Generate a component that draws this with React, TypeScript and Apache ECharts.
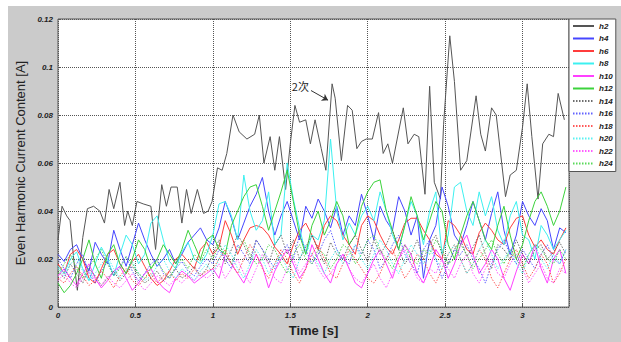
import React, { useEffect, useRef } from "react";
import * as echarts from "echarts";

// ---- Data ----
const h2Time = [0, 0.026, 0.056, 0.078, 0.103, 0.125, 0.16, 0.19, 0.23, 0.27, 0.30, 0.33, 0.36, 0.40, 0.43, 0.45, 0.48, 0.51, 0.55, 0.60, 0.63, 0.67, 0.70, 0.73, 0.77, 0.80, 0.83, 0.86, 0.90, 0.94, 0.97, 0.995, 1.03, 1.06, 1.09, 1.13, 1.17, 1.22, 1.27, 1.30, 1.33, 1.37, 1.40, 1.43, 1.47, 1.50, 1.53, 1.56, 1.60, 1.63, 1.66, 1.70, 1.73, 1.77, 1.79, 1.83, 1.87, 1.90, 1.93, 1.96, 1.99, 2.03, 2.07, 2.10, 2.13, 2.16, 2.23, 2.26, 2.30, 2.33, 2.37, 2.40, 2.43, 2.47, 2.49, 2.53, 2.56, 2.60, 2.64, 2.70, 2.73, 2.76, 2.80, 2.83, 2.89, 2.92, 2.96, 3.00, 3.03, 3.06, 3.10, 3.13, 3.17, 3.20, 3.23, 3.27];
const h2Values = [0.028, 0.042, 0.038, 0.036, 0.019, 0.007, 0.029, 0.041, 0.042, 0.040, 0.035, 0.049, 0.041, 0.052, 0.034, 0.040, 0.034, 0.044, 0.043, 0.042, 0.024, 0.051, 0.042, 0.050, 0.050, 0.035, 0.049, 0.039, 0.049, 0.039, 0.040, 0.044, 0.058, 0.057, 0.064, 0.080, 0.073, 0.070, 0.072, 0.080, 0.060, 0.071, 0.057, 0.071, 0.049, 0.068, 0.084, 0.077, 0.078, 0.068, 0.078, 0.066, 0.057, 0.093, 0.087, 0.061, 0.084, 0.082, 0.066, 0.069, 0.070, 0.070, 0.081, 0.064, 0.068, 0.060, 0.083, 0.068, 0.072, 0.071, 0.047, 0.092, 0.052, 0.045, 0.076, 0.113, 0.094, 0.057, 0.061, 0.088, 0.072, 0.065, 0.083, 0.080, 0.046, 0.055, 0.057, 0.075, 0.093, 0.071, 0.045, 0.068, 0.072, 0.071, 0.089, 0.078];

// shared sample times (s) for h4..h24
const sampleTime = [0, 0.04, 0.08, 0.12, 0.16, 0.2, 0.24, 0.28, 0.32, 0.36, 0.4, 0.44, 0.48, 0.52, 0.56, 0.6, 0.64, 0.68, 0.72, 0.76, 0.8, 0.84, 0.88, 0.92, 0.96, 1.0, 1.04, 1.08, 1.12, 1.16, 1.2, 1.24, 1.28, 1.32, 1.36, 1.4, 1.44, 1.48, 1.52, 1.56, 1.6, 1.64, 1.68, 1.72, 1.76, 1.8, 1.84, 1.88, 1.92, 1.96, 2.0, 2.04, 2.08, 2.12, 2.16, 2.2, 2.24, 2.28, 2.32, 2.36, 2.4, 2.44, 2.48, 2.52, 2.56, 2.6, 2.64, 2.68, 2.72, 2.76, 2.8, 2.84, 2.88, 2.92, 2.96, 3.0, 3.04, 3.08, 3.12, 3.16, 3.2, 3.24, 3.28];

// values in mA
const h4mA = [22, 19, 24, 26, 20, 15, 27, 22, 18, 32, 24, 17, 26, 35, 28, 22, 17, 20, 24, 18, 22, 27, 30, 33, 28, 26, 33, 44, 37, 28, 35, 42, 47, 54, 40, 30, 38, 44, 36, 28, 42, 37, 45, 40, 33, 42, 30, 38, 34, 47, 38, 28, 42, 36, 32, 46, 40, 30, 38, 12, 28, 34, 50, 42, 30, 26, 34, 44, 36, 28, 39, 48, 32, 22, 30, 44, 38, 34, 41, 36, 24, 33, 31];
const h6mA = [18, 14, 22, 24, 20, 12, 10, 16, 22, 24, 18, 14, 19, 22, 17, 12, 9, 11, 15, 20, 22, 19, 16, 24, 27, 22, 25, 36, 30, 22, 28, 33, 34, 33, 30, 25, 22, 18, 26, 32, 35, 30, 24, 34, 38, 36, 30, 26, 22, 34, 38, 36, 30, 25, 22, 28, 35, 37, 37, 32, 28, 22, 20, 36, 34, 30, 24, 22, 31, 35, 32, 28, 26, 33, 37, 38, 30, 25, 28, 24, 22, 28, 33];
const h8mA = [17, 14, 20, 23, 16, 11, 18, 25, 20, 13, 22, 30, 26, 18, 22, 35, 38, 28, 19, 16, 23, 27, 20, 18, 22, 30, 43, 44, 38, 28, 55, 40, 32, 36, 48, 26, 30, 60, 45, 33, 22, 30, 28, 36, 70, 40, 28, 35, 30, 38, 42, 36, 48, 40, 30, 24, 34, 44, 38, 26, 40, 48, 22, 30, 50, 52, 40, 34, 48, 38, 46, 32, 26, 38, 44, 30, 28, 20, 34, 30, 24, 28, 32];
const h10mA = [13, 16, 12, 9, 14, 18, 12, 8, 11, 15, 17, 12, 7, 10, 14, 16, 11, 8, 6, 12, 15, 13, 10, 12, 14, 16, 12, 22, 18, 14, 10, 16, 22, 17, 8, 15, 20, 24, 18, 12, 16, 26, 20, 14, 10, 18, 22, 16, 10, 8, 14, 20, 24, 18, 12, 20, 26, 22, 14, 10, 16, 24, 20, 12, 18, 26, 30, 22, 14, 18, 24, 20, 12, 7, 15, 22, 18, 26, 16, 10, 20, 24, 14];
const h12mA = [10, 6, 9, 14, 20, 28, 18, 12, 22, 26, 18, 14, 20, 28, 24, 16, 20, 26, 22, 18, 24, 32, 26, 20, 28, 30, 24, 22, 34, 40, 46, 50, 51, 42, 32, 40, 48, 57, 44, 30, 22, 34, 40, 30, 36, 44, 38, 26, 30, 42, 48, 52, 53, 40, 32, 24, 34, 46, 38, 28, 36, 44, 40, 26, 20, 30, 38, 44, 36, 28, 24, 34, 42, 30, 20, 26, 36, 44, 48, 42, 34, 40, 50];
const h14mA = [15, 12, 18, 14, 10, 16, 13, 9, 12, 15, 11, 14, 17, 13, 10, 12, 15, 11, 13, 16, 12, 14, 17, 13, 16, 22, 28, 18, 24, 30, 26, 20, 28, 24, 18, 26, 30, 22, 28, 20, 25, 30, 24, 18, 27, 22, 20, 26, 30, 24, 19, 28, 22, 26, 32, 24, 18, 22, 28, 20, 26, 30, 22, 18, 24, 28, 21, 25, 30, 22, 16, 26, 24, 20, 28, 22, 18, 24, 26, 20, 23, 27, 22];
const h16mA = [20, 16, 12, 18, 22, 14, 10, 15, 19, 13, 17, 21, 15, 11, 14, 18, 20, 14, 12, 16, 19, 15, 13, 17, 20, 18, 24, 20, 16, 26, 22, 18, 28, 24, 20, 16, 22, 26, 20, 30, 24, 18, 22, 28, 32, 24, 20, 18, 26, 22, 28, 24, 16, 20, 26, 30, 22, 18, 14, 24, 28, 20, 12, 18, 24, 22, 26, 20, 16, 10, 18, 24, 28, 22, 18, 24, 20, 16, 22, 26, 20, 18, 24];
const h18mA = [12, 10, 14, 17, 13, 9, 11, 15, 12, 8, 13, 16, 11, 9, 12, 14, 10, 13, 15, 11, 14, 12, 16, 13, 15, 16, 20, 24, 18, 14, 20, 26, 22, 16, 12, 18, 24, 20, 14, 10, 16, 22, 26, 20, 14, 12, 18, 24, 20, 16, 12, 10, 14, 20, 24, 18, 12, 16, 22, 20, 14, 10, 16, 22, 26, 20, 14, 18, 24, 20, 12, 8, 14, 20, 24, 18, 12, 16, 22, 18, 10, 14, 20];
const h20mA = [16, 13, 18, 20, 15, 11, 14, 18, 21, 16, 12, 15, 19, 14, 11, 13, 17, 20, 15, 12, 16, 14, 11, 15, 18, 14, 20, 26, 22, 16, 12, 18, 24, 20, 14, 18, 22, 16, 12, 20, 26, 22, 18, 14, 20, 24, 18, 22, 26, 20, 16, 22, 28, 24, 18, 14, 20, 26, 22, 18, 24, 20, 16, 22, 26, 20, 14, 18, 24, 28, 22, 16, 20, 24, 18, 14, 22, 26, 20, 16, 22, 18, 24];
const h22mA = [11, 14, 10, 8, 12, 15, 11, 9, 13, 10, 8, 11, 14, 10, 7, 10, 13, 11, 9, 12, 10, 13, 11, 14, 12, 14, 18, 12, 16, 20, 14, 10, 16, 22, 18, 12, 10, 16, 20, 14, 18, 22, 16, 12, 14, 18, 22, 16, 12, 10, 14, 18, 12, 8, 14, 20, 24, 18, 12, 10, 16, 14, 20, 16, 12, 18, 22, 14, 10, 16, 20, 14, 12, 18, 22, 16, 10, 14, 18, 12, 10, 16, 14];
const h24mA = [14, 18, 22, 16, 12, 17, 20, 24, 18, 13, 16, 21, 18, 14, 12, 16, 19, 15, 12, 17, 20, 16, 22, 19, 24, 20, 26, 22, 18, 24, 28, 22, 18, 20, 26, 24, 18, 14, 22, 26, 20, 18, 24, 22, 16, 20, 26, 24, 18, 22, 28, 30, 24, 20, 16, 22, 26, 20, 18, 24, 22, 28, 24, 18, 20, 26, 22, 16, 20, 24, 28, 22, 18, 24, 20, 16, 22, 26, 24, 20, 18, 24, 20];

const xTicks = { min: 0, max: 3.3, interval: 0.5 };
const yTicks = { min: 0, max: 0.12, interval: 0.02 };

const seriesNames = ["h2", "h4", "h6", "h8", "h10", "h12", "h14", "h16", "h18", "h20", "h22", "h24"];
const seriesColors = ["#555555", "#4646ff", "#ff3c3c", "#3cf0f0", "#ff40ff", "#3cd23c", "#555555", "#4646ff", "#ff3c3c", "#3cf0f0", "#ff40ff", "#3cd23c"];
const otherSeries = [h4mA, h6mA, h8mA, h10mA, h12mA, h14mA, h16mA, h18mA, h20mA, h22mA, h24mA];

function zip(xs: number[], ys: number[], scale = 1) {
  const n = Math.min(xs.length, ys.length);
  const out: number[][] = [];
  for (let i = 0; i < n; i++) out.push([xs[i], ys[i] * scale]);
  return out;
}

const tickFont = { fontFamily: "Liberation Sans, Arial, sans-serif", fontSize: 8, fontWeight: "bold" as const, fontStyle: "italic" as const, color: "#222" };

export default function App() {
  const ref = useRef<HTMLDivElement>(null);
  useEffect(() => {
    if (!ref.current) return;
    const chart = echarts.init(ref.current, undefined, { renderer: "svg" });
    const series: any[] = [];
    series.push({
      name: "h2",
      type: "line",
      data: zip(h2Time, h2Values),
      symbol: "none",
      lineStyle: { width: 1, color: seriesColors[0], type: "solid" },
      itemStyle: { color: seriesColors[0] },
      markLine: {
        silent: true,
        symbol: ["none", "arrow"],
        symbolSize: 6,
        lineStyle: { color: "#333", width: 1, type: "solid" },
        label: { show: false },
        data: [[{ coord: [1.634, 0.0902] }, { coord: [1.744, 0.0862] }]],
      },
      markPoint: {
        silent: true,
        symbol: "circle",
        symbolSize: 0,
        label: {
          show: true,
          formatter: "2次",
          position: "inside",
          fontFamily: "Noto Sans CJK SC, sans-serif",
          fontSize: 11,
          color: "#222",
        },
        data: [{ coord: [1.565, 0.0922] }],
      },
    });
    otherSeries.forEach((vals, i) => {
      const idx = i + 1;
      series.push({
        name: seriesNames[idx],
        type: "line",
        data: zip(sampleTime, vals, 0.001),
        symbol: "none",
        lineStyle: { width: 1, color: seriesColors[idx], type: idx >= 6 ? [1.5, 1.5] : "solid", opacity: idx >= 6 ? 0.85 : 1 },
        itemStyle: { color: seriesColors[idx] },
      });
    });

    chart.setOption({
      animation: false,
      backgroundColor: "transparent",
      grid: {
        left: 58,
        top: 19,
        right: 52,
        bottom: 28,
        show: true,
        backgroundColor: "#ffffff",
        borderColor: "#555",
        borderWidth: 1,
      },
      legend: {
        orient: "vertical",
        left: 569,
        top: 19,
        itemWidth: 21,
        itemHeight: 8,
        itemGap: 4.5,
        padding: [3, 3, 4, 3],
        backgroundColor: "#ffffff",
        borderColor: "#555",
        borderWidth: 1,
        borderRadius: 0,
        data: seriesNames,
        itemStyle: { opacity: 0, borderWidth: 0 },
        textStyle: { ...tickFont, lineHeight: 8, color: "#222" },
      },
      xAxis: {
        type: "value",
        min: xTicks.min,
        max: xTicks.max,
        interval: xTicks.interval,
        name: "Time [s]",
        nameLocation: "middle",
        nameGap: 13,
        nameTextStyle: { fontFamily: "Liberation Sans, Arial, sans-serif", fontSize: 13, fontWeight: "bold", color: "#222" },
        axisLine: { show: false },
        axisTick: { show: true, inside: true, length: 3, lineStyle: { color: "#555" } },
        axisLabel: { ...tickFont, margin: 4, showMaxLabel: false },
        splitLine: { show: true, lineStyle: { color: "#555", type: "dotted", width: 1 } },
      },
      yAxis: {
        type: "value",
        min: yTicks.min,
        max: yTicks.max,
        interval: yTicks.interval,
        name: "Even Harmonic Current Content [A]",
        nameLocation: "middle",
        nameGap: 27,
        nameTextStyle: { fontFamily: "Liberation Sans, Arial, sans-serif", fontSize: 13, color: "#222" },
        axisLine: { show: false },
        axisTick: { show: true, inside: true, length: 3, lineStyle: { color: "#555" } },
        axisLabel: { ...tickFont, margin: 5 },
        splitLine: { show: true, lineStyle: { color: "#555", type: "dotted", width: 1 } },
      },
      series,
    });
    return () => chart.dispose();
  }, []);

  return (
    <div style={{ position: "absolute", left: 0, top: 0, width: 621, height: 342, background: "#ffffff", overflow: "hidden" }}>
      <div style={{ position: "absolute", left: 8, top: 6, right: 0, bottom: 0, background: "#cbcbcb" }} />
      <div ref={ref} style={{ position: "absolute", left: 0, top: 0, width: 621, height: 342 }} />
    </div>
  );
}
